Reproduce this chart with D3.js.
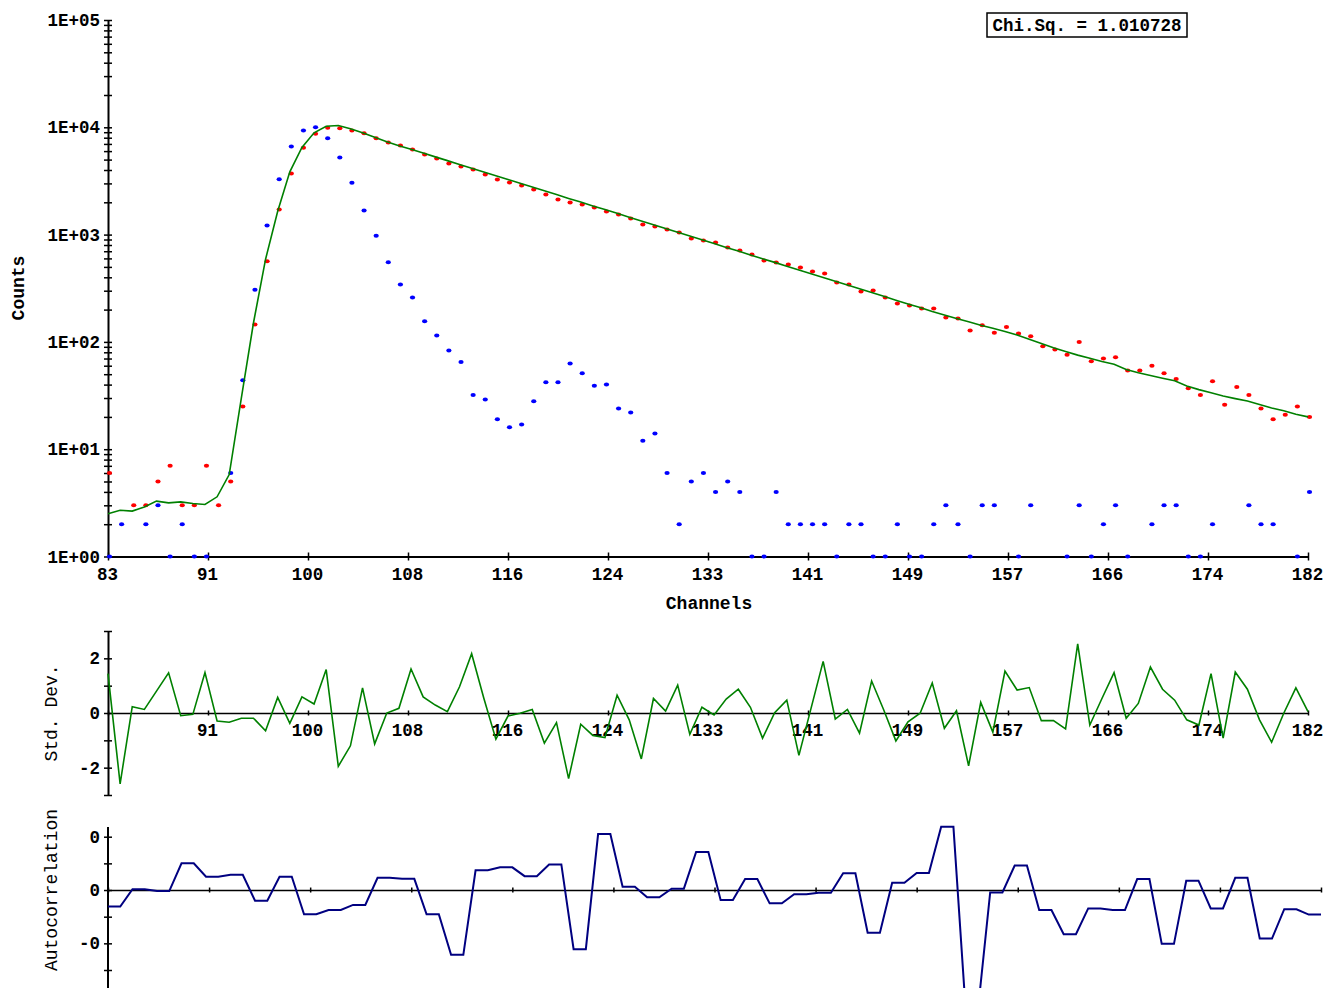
<!DOCTYPE html>
<html>
<head>
<meta charset="utf-8">
<script src="https://cdn.jsdelivr.net/npm/d3@7"></script>
<style>
body { margin: 0; background: #fff; }
svg text { font-family: "Liberation Mono", "Courier New", monospace; fill: #000; }
</style>
</head>
<body>
<svg id="chart" width="1323" height="988"></svg>
<script>
// channels 83..182
const channels = d3.range(83, 183)

// measured decay (red)
const counts = [
	6, 0, 3, 3, 5, 7, 3, 3, 7, 3,
	5, 25, 145, 563, 1714, 3710, 6440, 8690, 9890, 9800,
	9330, 8810, 7910, 7210, 6770, 6210, 5580, 5120, 4600, 4320,
	4040, 3630, 3260, 3060, 2870, 2630, 2360, 2120, 1990, 1910,
	1790, 1640, 1540, 1410, 1240, 1190, 1115, 1046, 920, 882,
	844, 758, 711, 653, 574, 550, 526, 494, 453, 434,
	358, 343, 295, 301, 259, 228, 218, 205, 205, 169,
	165, 128, 143, 122, 138, 120, 113, 91, 85, 76,
	100, 66, 70, 72, 54, 54, 60, 51, 45, 37,
	32, 43, 26, 38, 32, 24, 19, 21, 25, 20
]

// instrument response (blue)
const prompt = [
	1, 2, 0, 2, 3, 1, 2, 1, 1, 0,
	6, 44, 306, 1216, 3283, 6620, 9340, 10030, 7910, 5230,
	3040, 1678, 975, 553, 343, 259, 156, 115, 83, 65,
	32, 29, 19, 16, 17, 28, 42, 42, 63, 51,
	39, 40, 24, 22, 12, 14, 6, 2, 5, 6,
	4, 5, 4, 1, 1, 4, 2, 2, 2, 2,
	1, 2, 2, 1, 1, 2, 1, 1, 2, 3,
	2, 1, 3, 3, 0, 1, 3, 0, 0, 1,
	3, 1, 2, 3, 1, 0, 2, 3, 3, 1,
	1, 2, 0, 0, 3, 2, 2, 0, 1, 4
]

// fitted curve (green)
const fit = [
	2.5, 2.7, 2.65, 2.9, 3.28, 3.16, 3.23, 3.12, 3.05, 3.6,
	5.8, 30, 150, 590, 1650, 3850, 6500, 8890, 10240, 10400,
	9680, 8890, 8090, 7330, 6740, 6240, 5750, 5300, 4890, 4510,
	4160, 3830, 3540, 3260, 3010, 2780, 2560, 2360, 2175, 2010,
	1850, 1710, 1580, 1453, 1340, 1237, 1140, 1050, 970, 895,
	825, 760, 702, 647, 596, 551, 508, 468, 432, 398,
	367, 339, 313, 288, 266, 245, 226, 209, 192, 178,
	165, 154, 143, 134, 125, 116, 106, 96.6, 88.3, 81.4,
	75.3, 70.5, 65.6, 62, 55.3, 51.5, 48.6, 45.8, 43.4, 38.8,
	35.9, 33.6, 31.3, 29.6, 28.1, 26.1, 24.2, 22.8, 21.2, 20.0
]

// weighted residuals
const residuals = [
	1.44, -2.59, 0.23, 0.13, 0.8, 1.47, -0.1, -0.05, 1.48, -0.29,
	-0.34, -0.19, -0.19, -0.65, 0.57, -0.38, 0.59, 0.33, 1.59, -1.95,
	-1.2, 0.92, -1.13, 0, 0.17, 1.61, 0.59, 0.29, 0.05, 0.96,
	2.17, 0.55, -0.96, -0.11, -0.01, 0.13, -1.1, -0.35, -2.4, -0.41,
	-0.82, -0.9, 0.65, -0.25, -1.68, 0.53, 0.07, 1.02, -0.78, 0.21,
	-0.07, 0.51, 0.87, 0.21, -0.92, 0.01, 0.47, -1.55, 0.17, 1.89,
	-0.22, 0.13, -0.74, 1.17, 0.11, -1.02, -0.32, -0.01, 1.1, -0.56,
	0.08, -1.93, 0.39, -0.7, 1.53, 0.84, 0.93, -0.28, -0.28, -0.58,
	2.53, -0.44, 0.53, 1.48, -0.19, 0.35, 1.68, 0.87, 0.47, -0.25,
	-0.44, 1.44, -0.92, 1.5, 0.87, -0.25, -1.07, -0.01, 0.92, 0.05
]

// autocorrelation of residuals, one value per pair of channels
const autocorr = [
	-0.062, 0.003, -0.004, 0.1, 0.05, 0.057, -0.04, 0.05, -0.091, -0.075,
	-0.056, 0.046, 0.042, -0.091, -0.243, 0.074, 0.085, 0.052, 0.096, -0.222,
	0.21, 0.012, -0.027, 0.005, 0.143, -0.037, 0.041, -0.05, -0.016, -0.01,
	0.063, -0.16, 0.027, 0.064, 0.237, -0.45, -0.009, 0.092, -0.075, -0.166,
	-0.069, -0.075, 0.041, -0.202, 0.035, -0.069, 0.046, -0.182, -0.072, -0.092
]

const chiSqText = "Chi.Sq. = 1.010728"

const channelTickLabels = ["83", "91", "100", "108", "116", "124", "133", "141", "149", "157", "166", "174", "182"]
const countTickLabels = ["1E+00", "1E+01", "1E+02", "1E+03", "1E+04", "1E+05"]
const resTicks = [-3, -2, -1, 0, 1, 2, 3]
const resTickLabels = {"-2": "-2", "0": "0", "2": "2"}
const acfTicks = [0.2, 0.1, 0, -0.1, -0.2, -0.3, -0.4, -0.5]
const acfTickLabels = {"0.2": "0", "0": "0", "-0.2": "-0"}

const svg = d3.select("#chart")
svg.append("rect").attr("width", 1323).attr("height", 988).attr("fill", "#fff")

const x = d3.scaleLinear().domain([83, 182]).range([108, 1308])
const yMain = d3.scaleLog().domain([1, 1e5]).range([556.5, 20])
const yRes = d3.scaleLinear().domain([-3, 3]).range([795, 631])
const xAcf = d3.scaleLinear().domain([0, 99]).range([108, 1321])
const yAcf = d3.scaleLinear().domain([-0.3, 0.2]).range([970, 836.7])

const channelTicks = channelTickLabels.map((d, i) => 83 + i * 99 / 12)

// make tick marks cross the axis line
const styleAxis = function(g, vertical, half) {
	g.select(".domain").attr("stroke", "#000").attr("stroke-width", 2)
	g.selectAll(".tick line")
		.attr("stroke", "#000")
		.attr("stroke-width", 1.5)
		.attr(vertical ? "x1" : "y1", -half)
		.attr(vertical ? "x2" : "y2", half)
	g.selectAll(".tick text")
		.attr("font-size", 17.5)
		.attr("font-weight", "bold")
}

// ---------- main panel ----------
const logTicks = []
for (let k = 0; k < 5; k++) {
	for (let m = 1; m < 10; m++) logTicks.push(m * Math.pow(10, k))
}
logTicks.push(1e5)

const gy = svg.append("g")
	.attr("transform", "translate(108,0)")
	.call(d3.axisLeft(yMain)
		.tickValues(logTicks)
		.tickSize(4).tickPadding(4).tickSizeOuter(0)
		.tickFormat(d => {
			const e = Math.round(Math.log10(d))
			return Math.abs(d - Math.pow(10, e)) < 1e-9 ? countTickLabels[e] : ""
		}))
styleAxis(gy, true, 4)

const gx = svg.append("g")
	.attr("transform", `translate(0,${yMain(1)})`)
	.call(d3.axisBottom(x)
		.tickValues(channelTicks)
		.tickSize(4).tickPadding(4).tickSizeOuter(0)
		.tickFormat((d, i) => channelTickLabels[i]))
styleAxis(gx, false, 4)
gx.selectAll(".tick text").attr("y", 23.5).attr("dy", "0").attr("dx", -1)

svg.append("text")
	.attr("x", 709).attr("y", 609)
	.attr("text-anchor", "middle")
	.attr("font-size", 18).attr("font-weight", "bold")
	.text("Channels")

svg.append("text")
	.attr("transform", "translate(24,288) rotate(-90)")
	.attr("text-anchor", "middle")
	.attr("font-size", 18).attr("font-weight", "bold")
	.text("Counts")

svg.append("rect")
	.attr("x", 987).attr("y", 13).attr("width", 200).attr("height", 24)
	.attr("fill", "#fff").attr("stroke", "#000").attr("stroke-width", 1.5)
svg.append("text")
	.attr("x", 1087).attr("y", 30.5)
	.attr("text-anchor", "middle")
	.attr("font-size", 17.5).attr("font-weight", "bold")
	.text(chiSqText)

const drawDots = function(values, color) {
	svg.append("g").selectAll("ellipse")
		.data(channels.map((c, i) => [c, values[i]]).filter(d => d[1] > 0))
		.join("ellipse")
		.attr("cx", d => x(d[0]) + 1.5)
		.attr("cy", d => yMain(d[1]))
		.attr("rx", 2.6).attr("ry", 2)
		.attr("fill", color)
}
drawDots(counts, "#ff0000")
drawDots(prompt, "#0000ff")

svg.append("path")
	.datum(channels.map((c, i) => [c, fit[i]]))
	.attr("fill", "none")
	.attr("stroke", "#008000")
	.attr("stroke-width", 1.6)
	.attr("d", d3.line().x(d => x(d[0])).y(d => yMain(d[1])))

// ---------- residual panel ----------
const gry = svg.append("g")
	.attr("transform", "translate(108,0)")
	.call(d3.axisLeft(yRes)
		.tickValues(resTicks)
		.tickSize(4).tickPadding(4).tickSizeOuter(0)
		.tickFormat(d => resTickLabels[d] || ""))
styleAxis(gry, true, 4)

const grx = svg.append("g")
	.attr("transform", `translate(0,${yRes(0)})`)
	.call(d3.axisBottom(x)
		.tickValues(channelTicks)
		.tickSize(2).tickPadding(4).tickSizeOuter(0)
		.tickFormat((d, i) => i === 0 ? "" : channelTickLabels[i]))
styleAxis(grx, false, 2.5)
grx.select(".domain").attr("stroke-width", 1.5)
grx.selectAll(".tick text").attr("y", 22.5).attr("dy", "0").attr("dx", -1)

svg.append("path")
	.datum(channels.map((c, i) => [c, residuals[i]]))
	.attr("fill", "none")
	.attr("stroke", "#008000")
	.attr("stroke-width", 1.6)
	.attr("d", d3.line().x(d => x(d[0])).y(d => yRes(d[1])))

svg.append("text")
	.attr("transform", `translate(57,${yRes(0)}) rotate(-90)`)
	.attr("text-anchor", "middle")
	.attr("font-size", 18)
	.text("Std. Dev.")

// ---------- autocorrelation panel ----------
const gay = svg.append("g")
	.attr("transform", "translate(108,0)")
	.call(d3.axisLeft(yAcf)
		.tickValues(acfTicks)
		.tickSize(4).tickPadding(4).tickSizeOuter(0)
		.tickFormat(d => acfTickLabels[String(d)] || ""))
styleAxis(gay, true, 4)
gay.select(".domain").attr("d", `M0,827V1000`)

const gax = svg.append("g")
	.attr("transform", `translate(0,${yAcf(0)})`)
	.call(d3.axisBottom(xAcf)
		.tickValues(d3.range(13).map(i => i * 99 / 12))
		.tickSize(2).tickSizeOuter(0)
		.tickFormat(""))
styleAxis(gax, false, 2.5)
gax.select(".domain").attr("stroke-width", 1.5)

const acfPoints = []
autocorr.forEach((v, i) => {
	acfPoints.push([2 * i, v])
	acfPoints.push([2 * i + 1, v])
})
svg.append("path")
	.datum(acfPoints)
	.attr("fill", "none")
	.attr("stroke", "#000080")
	.attr("stroke-width", 2)
	.attr("d", d3.line().x(d => xAcf(d[0])).y(d => yAcf(d[1])))

svg.append("text")
	.attr("transform", `translate(57,${yAcf(0)}) rotate(-90)`)
	.attr("text-anchor", "middle")
	.attr("font-size", 18)
	.text("Autocorrelation")
</script>
</body>
</html>
